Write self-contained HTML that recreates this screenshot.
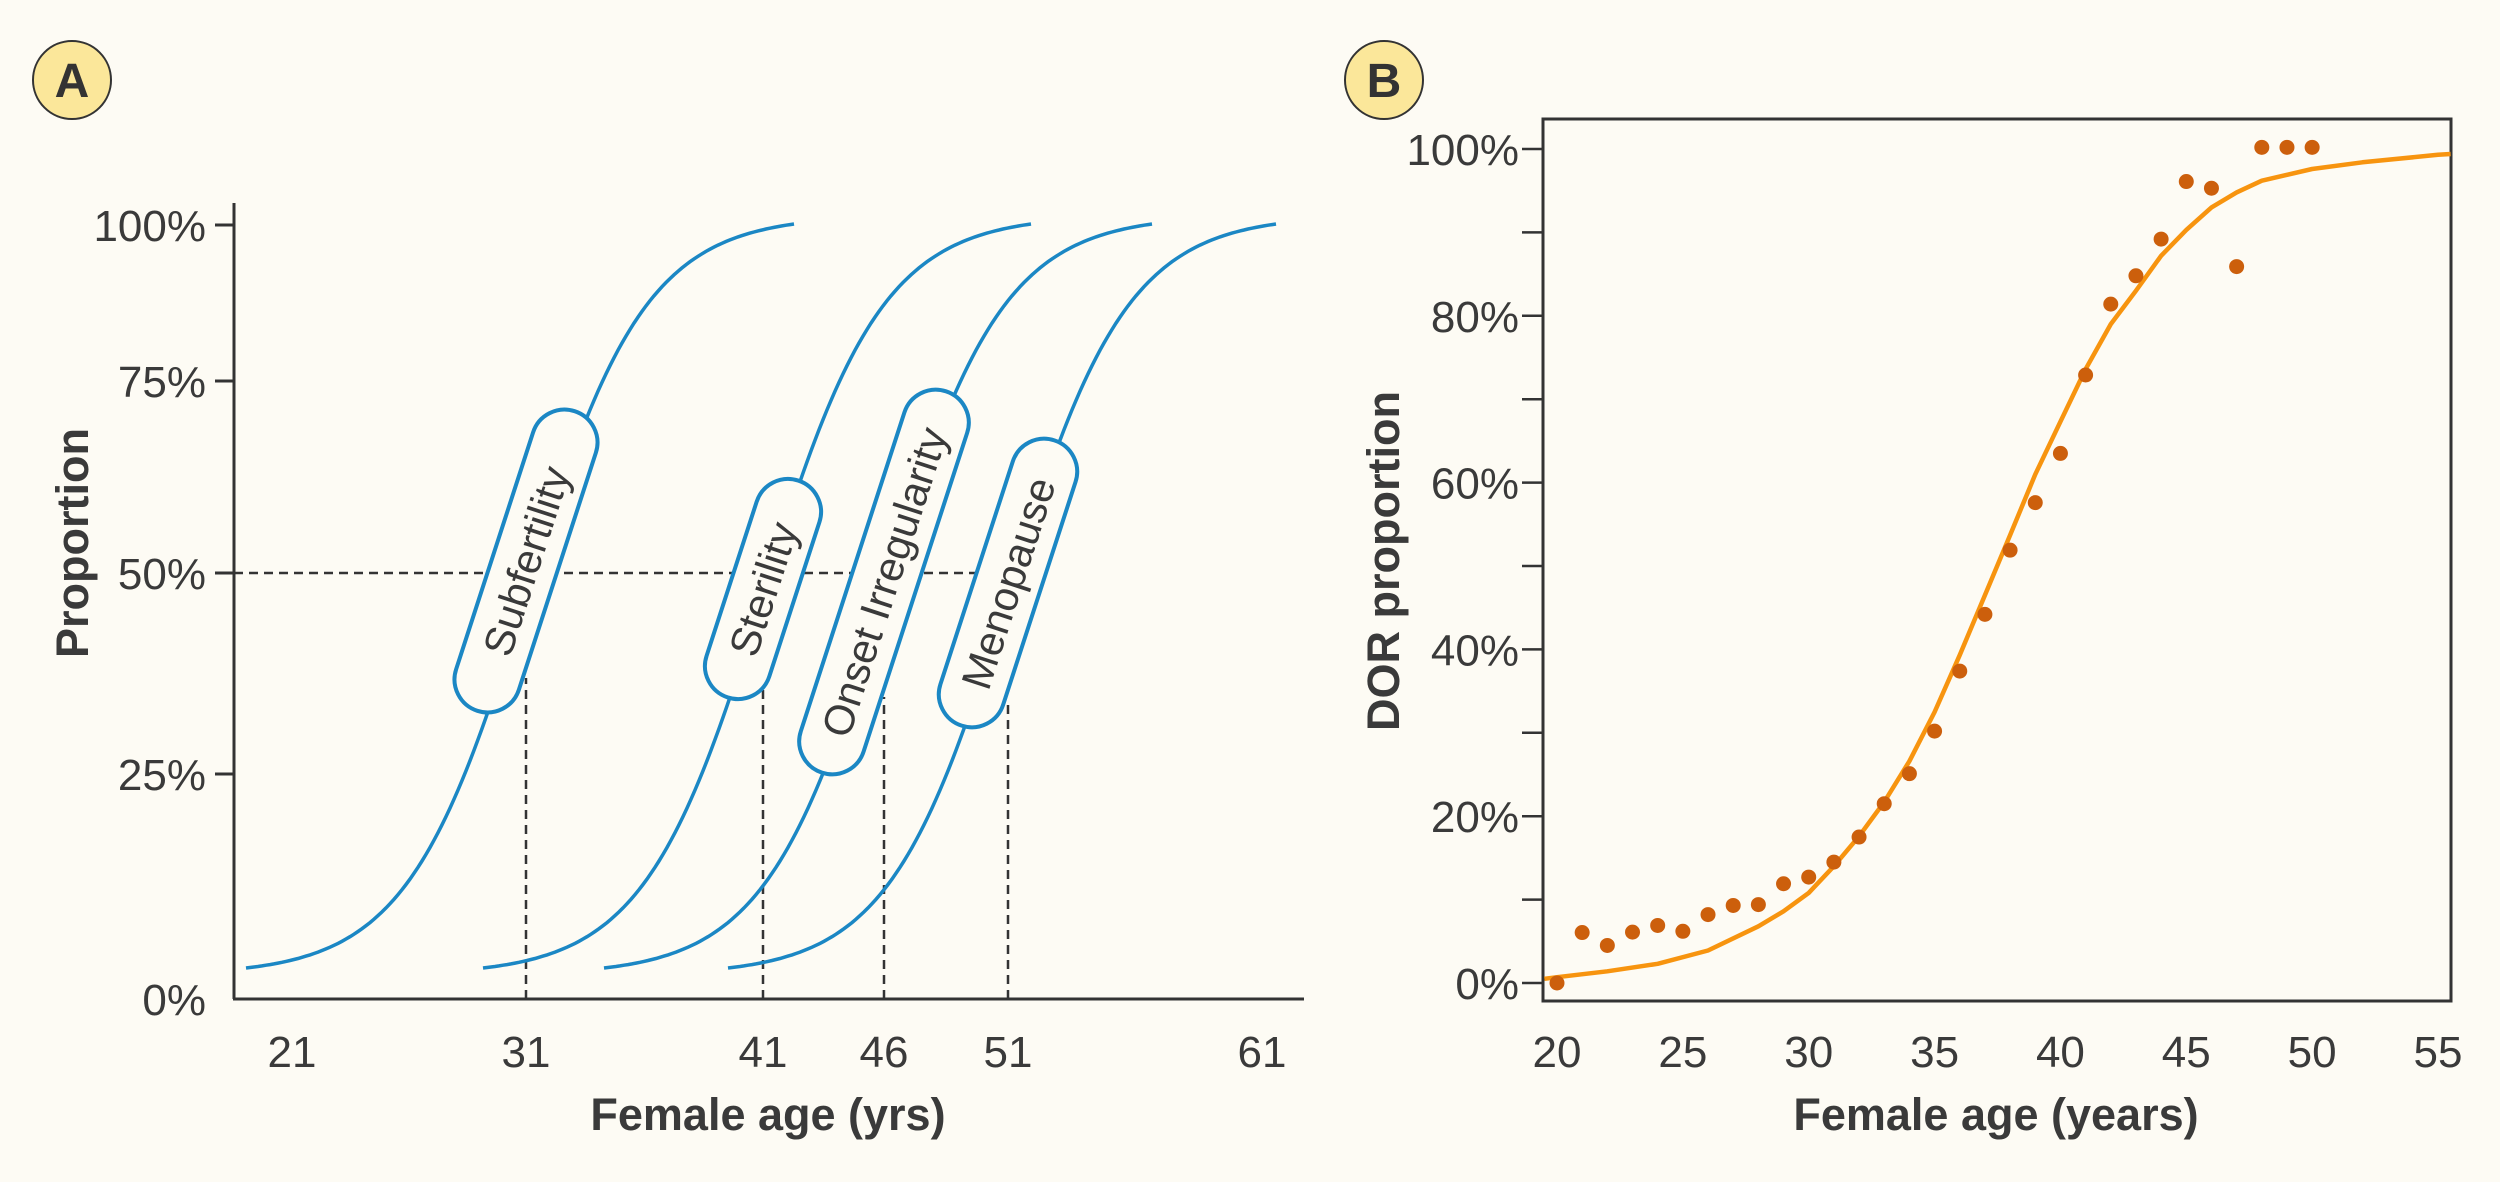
<!DOCTYPE html>
<html><head><meta charset="utf-8"><style>
html,body{margin:0;padding:0;background:#fdfbf4;}
svg{display:block;font-family:"Liberation Sans",sans-serif;}
</style></head><body>
<svg id="chart" width="2500" height="1182" viewBox="0 0 2500 1182">
<rect width="2500" height="1182" fill="#fdfbf4"/>
<g id="panelA"></g>
<g id="panelB"></g>
</svg>
<script>
// ---------- Panel A data ----------
const aCurveNames = ["Subfertility","Sterility","Onset Irregularity","Menopause"];
const aMedianAges = [31,41,46,51];
const aXTickLabels = [21,31,41,46,51,61];
const aYTickLabels = [0,25,50,75,100];
// ---------- Panel B data ----------
const bAges = [20,21,22,23,24,25,26,27,28,29,30,31,32,33,34,35,36,37,38,39,40,41,42,43,44,45,46,47,48,49,50];
const bObserved = [0,6.05,4.5,6.1,6.9,6.2,8.2,9.3,9.4,11.9,12.7,14.5,17.5,21.5,25.1,30.2,37.4,44.2,51.9,57.6,63.5,72.9,81.4,84.8,89.2,96.1,95.3,85.9,100.2,100.2,100.2];
const bFitAges = [19.5,20,22,24,26,28,29,30,31,32,33,34,35,36,37,38,39,40,41,42,43,44,45,46,47,48,50,52,55,55.5];
const bFitValues = [0.5,0.7,1.4,2.3,3.9,6.8,8.6,10.8,14,17.6,21.7,26.6,32.5,39.3,46.5,53.7,61,67.3,73.6,79,83,87.2,90.3,93,94.8,96.2,97.6,98.4,99.3,99.4];
const bXTickLabels = [20,25,30,35,40,45,50,55];
const bYTickLabels = [0,20,40,60,80,100];

const NS="http://www.w3.org/2000/svg";
function mk(parent,tag,attrs,text){const e=document.createElementNS(NS,tag);for(const k in attrs)e.setAttribute(k,attrs[k]);if(text!==undefined)e.textContent=text;parent.appendChild(e);return e;}
const TXT="#3a3a3a";
const FS=44;

// ---------- Panel A ----------
const A=document.getElementById('panelA');
const aXKnots=[21,31,41,46,51,61], aXPix=[292,526,763,884,1008,1262];
const aYKnots=[0,25,50,75,100], aYPix=[999,774,573,381,225];
function interp(v,ks,ps){for(let i=0;i<ks.length-1;i++){if(v<=ks[i+1]||i===ks.length-2){const t=(v-ks[i])/(ks[i+1]-ks[i]);return ps[i]+t*(ps[i+1]-ps[i]);}}}
const ax=v=>interp(v,aXKnots,aXPix), ay=v=>interp(v,aYKnots,aYPix);

let badge=mk(A,'circle',{cx:72,cy:80,r:39,fill:'#fbe79a',stroke:'#333',"stroke-width":2});

let bt=mk(A,'text',{x:72,y:97,"text-anchor":"middle","font-size":48,"font-weight":"bold",fill:'#333'},'A');


let yAxis=mk(A,'line',{x1:234,y1:203,x2:234,y2:999,stroke:'#333',"stroke-width":3});

let xAxis=mk(A,'line',{x1:233,y1:999,x2:1304,y2:999,stroke:'#333',"stroke-width":3});

aYTickLabels.forEach(v=>{
  const y=ay(v);
  if(v>0){const t=mk(A,'line',{x1:215,y1:y,x2:234,y2:y,stroke:'#333',"stroke-width":3});
  }
  const l=mk(A,'text',{x:206,y:y+16,"text-anchor":"end","font-size":FS,fill:TXT},v+'%');
  
});
aXTickLabels.forEach(v=>{
  const l=mk(A,'text',{x:ax(v),y:1067,"text-anchor":"middle","font-size":FS,fill:TXT},String(v));
  
});
let at1=mk(A,'text',{x:768,y:1130,"text-anchor":"middle","font-size":45,"font-weight":"bold",fill:TXT},'Female age (yrs)');

let at2=mk(A,'text',{x:0,y:0,"text-anchor":"middle","font-size":45,"font-weight":"bold",fill:TXT,transform:'translate(88,543) rotate(-90)'},'Proportion');


let h50=mk(A,'line',{x1:234,y1:ay(50),x2:978,y2:ay(50),stroke:'#333',"stroke-width":2.5,"stroke-dasharray":"9 6"});


const pillCenterY=[561,589,582,583], pillLen=[315,228,401,300], dashTop=[678,690,697,701];
const sg=x=>1/(1+Math.exp(-x));
aMedianAges.forEach((m,i)=>{
  const cx=ax(m);
  const k=60, t0=-280, t1=268;
  const s0=sg(t0/k), s1=sg(t1/k);
  let d='';
  for(let t=t0;t<=t1;t+=4){
    const s=(sg(t/k)-s0)/(s1-s0);
    const y=968-(968-224)*s;
    d+=(t===t0?'M':'L')+(cx+t).toFixed(1)+','+y.toFixed(1);
  }
  const c=mk(A,'path',{d:d,fill:'none',stroke:'#1b87c4',"stroke-width":3.5});
  
  
  const v=mk(A,'line',{x1:cx,y1:999,x2:cx,y2:dashTop[i],stroke:'#333',"stroke-width":2.5,"stroke-dasharray":"9 6"});
  
});
aMedianAges.forEach((m,i)=>{
  const cx=ax(m), cy=pillCenterY[i], L=pillLen[i];
  const g=mk(A,'g',{transform:`translate(${cx},${cy}) rotate(-72)`});
  
  const r=mk(g,'rect',{x:-L/2,y:-33,width:L,height:66,rx:33,fill:'#fdfbf4',stroke:'#1b87c4',"stroke-width":4});
  
  const t=mk(g,'text',{x:0,y:15,"text-anchor":"middle","font-size":42,fill:TXT},aCurveNames[i]);
  
});

// ---------- Panel B ----------
const B=document.getElementById('panelB');
const bx=v=>1557+(v-20)*(2438-1557)/35;
const by=v=>983-v*(983-149)/100;
let bb=mk(B,'circle',{cx:1384,cy:80,r:39,fill:'#fbe79a',stroke:'#333',"stroke-width":2});

let bbt=mk(B,'text',{x:1384,y:97,"text-anchor":"middle","font-size":48,"font-weight":"bold",fill:'#333'},'B');

let frame=mk(B,'rect',{x:1543,y:119,width:908,height:882,fill:'none',stroke:'#333',"stroke-width":3});

for(let v=0;v<=100;v+=10){
  const t=mk(B,'line',{x1:1522,y1:by(v),x2:1543,y2:by(v),stroke:'#333',"stroke-width":2.5});
  
}
bYTickLabels.forEach(v=>{
  const l=mk(B,'text',{x:1519,y:by(v)+16,"text-anchor":"end","font-size":FS,fill:TXT},v+'%');
  
});
bXTickLabels.forEach(v=>{
  const l=mk(B,'text',{x:bx(v),y:1067,"text-anchor":"middle","font-size":FS,fill:TXT},String(v));
  
});
let bt1=mk(B,'text',{x:1996,y:1130,"text-anchor":"middle","font-size":45,"font-weight":"bold",fill:TXT},'Female age (years)');

let bt2=mk(B,'text',{x:0,y:0,"text-anchor":"middle","font-size":45,"font-weight":"bold",fill:TXT,transform:'translate(1399,561) rotate(-90)'},'DOR proportion');

let fd='';
bFitAges.forEach((a,i)=>{fd+=(i?'L':'M')+bx(a).toFixed(1)+','+by(bFitValues[i]).toFixed(1);});
let fit=mk(B,'path',{d:fd,fill:'none',stroke:'#f7940f',"stroke-width":4.5,"stroke-linejoin":"round"});

bAges.forEach((a,i)=>{
  const p=mk(B,'circle',{cx:bx(a),cy:by(bObserved[i]),r:7.5,fill:'#cc5f0c'});
  
});
</script>
</body></html>
